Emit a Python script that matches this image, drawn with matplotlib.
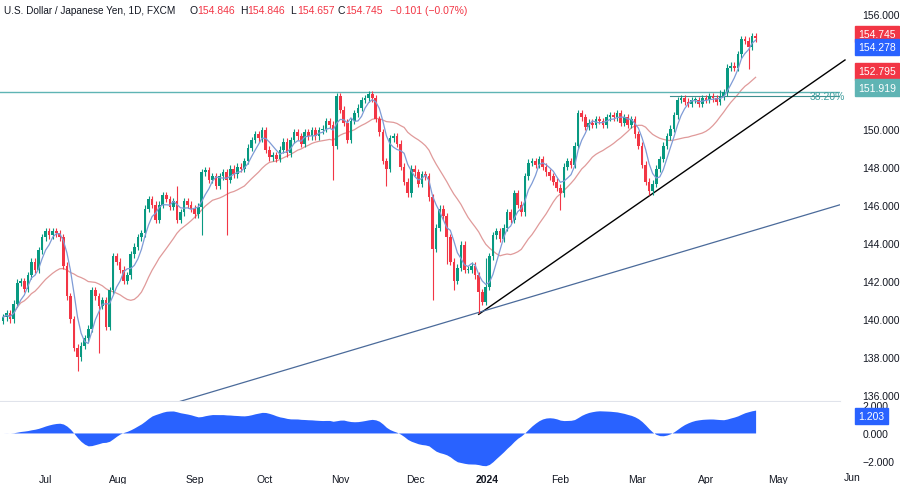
import numpy as np
import pandas as pd
import matplotlib
matplotlib.use("Agg")
import matplotlib.pyplot as plt

plt.rcParams['font.family'] = ['Liberation Sans', 'DejaVu Sans']

closes = [140.1,140.3,140.0,140.8,141.9,142.0,141.6,142.3,143.0,142.6,
          143.6,144.3,144.6,144.4,144.6,144.5,144.3,142.8,141.2,140.0,
          138.5,138.0,138.6,139.0,139.5,141.5,141.2,140.7,141.0,139.6,
          141.5,143.3,143.0,142.6,142.0,142.3,143.4,143.8,144.3,144.5,
          145.8,146.3,146.0,145.2,146.0,146.5,146.3,145.9,146.2,145.2,
          145.6,146.2,146.0,145.8,145.5,145.9,147.7,147.8,147.3,147.5,
          147.0,147.5,147.7,147.3,147.9,147.6,148.0,147.9,148.3,149.0,
          149.4,149.7,149.5,149.9,148.9,148.5,148.6,148.4,148.9,149.3,
          148.7,149.4,149.8,149.6,149.2,149.8,149.6,149.9,149.6,149.9,
          150.0,150.4,150.2,149.1,151.7,151.0,150.3,149.4,150.4,150.8,
          151.1,151.5,151.6,151.8,151.6,150.5,149.8,148.3,147.9,149.5,
          149.6,149.2,148.0,147.2,146.6,147.9,147.7,147.1,147.6,147.5,
          146.4,143.7,144.8,145.8,145.4,144.3,143.0,142.0,142.7,143.9,
          142.6,142.6,142.8,142.3,141.4,140.9,141.7,143.3,144.4,144.6,
          144.2,144.8,145.6,145.2,146.6,146.0,145.6,147.5,148.2,148.3,
          148.1,148.4,148.0,147.7,147.5,147.2,146.9,146.6,148.0,148.3,
          148.1,149.1,150.8,150.6,150.1,150.3,150.2,150.5,150.4,150.2,
          150.6,150.7,150.6,150.8,150.3,150.6,150.2,150.5,149.7,149.1,
          148.1,147.2,146.7,147.1,147.9,148.4,149.1,149.6,150.0,150.7,
          151.5,151.6,151.4,151.3,151.5,151.5,151.3,151.6,151.5,151.7,
          151.6,151.4,151.7,151.9,153.2,153.3,153.2,153.9,154.7,154.6,
          154.3,154.846,154.745]
first_open = 139.9
long_wicks = {21: (None, 137.3), 27: (None, 138.2), 49: (147.0, None),
              56: (None, 144.4), 63: (None, 144.4), 93: (None, 147.3), 103: (151.95, None),
              108: (None, 147.0), 121: (None, 141.0), 125: (None, 142.9), 127: (None, 141.5),
              134: (None, 140.3), 136: (143.2, None), 157: (None, 145.7), 182: (None, 146.5),
              202: (152.0, None), 210: (None, 153.1)}
month_labels = ["Jul", "Aug", "Sep", "Oct", "Nov", "Dec", "2024", "Feb", "Mar", "Apr", "May", "Jun"]
month_px = [45, 118, 195, 265, 340, 415, 487, 560, 637, 706, 778, 852]
resist = 151.919
fib_level = 151.72

GREEN, RED = "#089981", "#f23645"
n = len(closes)
c = np.array(closes)
o = np.concatenate([[first_open], c[:-1]])
o[-1] = 154.846
hi = np.maximum(o, c) + 0.18
lo = np.minimum(o, c) - 0.18
for k, (h, l) in long_wicks.items():
    if h is not None: hi[k] = max(hi[k], h)
    if l is not None: lo[k] = min(lo[k], l)
idx = np.arange(n)
px2i = lambda p: (p - 3) / 3.55

s = pd.Series(c)
ma_fast = s.rolling(5, min_periods=1).mean()
ma_slow = s.rolling(20, min_periods=1).mean()
osc = (s.ewm(span=10).mean() - s.ewm(span=30).mean()).ewm(span=4).mean()

fig = plt.figure(figsize=(9, 4.85), dpi=100)
ax = fig.add_axes([0, 1 - 402/485, 840/900, 402/485])
ax2 = fig.add_axes([0, 1 - 468/485, 840/900, 65/485], sharex=ax)

for i in idx:
    col = GREEN if c[i] >= o[i] else RED
    ax.vlines(i, lo[i], hi[i], color=col, lw=0.8, zorder=3)
    ax.bar(i, max(abs(c[i]-o[i]), 0.03), bottom=min(o[i], c[i]), width=0.75, color=col, zorder=4)
ax.plot(idx, ma_fast, color="#7e9bd6", lw=0.9, zorder=5)
ax.plot(idx, ma_slow, color="#e09a9a", lw=0.9, zorder=2)

xmin, xmax = px2i(0), px2i(840)
ax.axhline(resist, color="#5fb4b4", lw=1.0)
ax.plot([px2i(670), xmax], [fib_level, fib_level], color="#3f8f8f", lw=0.8)
ax.text(px2i(810), fib_level, "38.20%", color="#3f9e9e", fontsize=7.5, va="center", ha="left")
ax.plot([134, px2i(845)], [140.25, 153.6], color="black", lw=1.0, clip_on=False)
ax.plot([px2i(175), px2i(840)], [135.6, 146.0], color="#4a6a9a", lw=0.9)

ax.set_xlim(xmin, xmax)
ax.set_ylim(135.7, 156.8)
ax.yaxis.tick_right()
yt = [136, 138, 140, 142, 144, 146, 148, 150, 156]
ax.set_yticks(yt)
ax.set_yticklabels([f"{v:.3f}" for v in yt], fontsize=7.5, color="#131722")
ax.tick_params(axis="y", length=0, pad=16)
ax.tick_params(axis="x", bottom=False, labelbottom=False)
for sp in ax.spines.values(): sp.set_visible(False)
ax.spines["bottom"].set_visible(True); ax.spines["bottom"].set_color("#e0e3eb")

tags = [("154.745", RED), ("154.278", "#2962ff"), ("152.795", RED), ("151.919", "#5fb4b4")]
ypos = [154.95, 154.28, 153.0, 152.15]
for (t, col), yp in zip(tags, ypos):
    ax.text(1.022, yp, t, transform=ax.get_yaxis_transform(), fontsize=7.5, color="white", zorder=10,
            va="center", ha="left", bbox=dict(boxstyle="square,pad=0.3", fc=col, ec=col), clip_on=False)

ty = 1 - 11/485
fig.text(0.005, ty, "U.S. Dollar / Japanese Yen, 1D, FXCM", fontsize=7.2, color="#131722", va="center")
pieces = [("O", "154.846", 190), ("H", "154.846", 240), ("L", "154.657", 290), ("C", "154.745", 338)]
for letter, val, xp in pieces:
    fig.text(xp/900, ty, letter, fontsize=7.5, color="#131722", va="center")
    fig.text((xp + 7)/900, ty, val, fontsize=7.5, color=RED, va="center")
fig.text(390/900, ty, "\u22120.101 (\u22120.07%)", fontsize=7.5, color=RED, va="center")

ax2.fill_between(idx, 0, osc, color="#2962ff", lw=0)
ax2.set_ylim(-2.43, 2.21)
ax2.yaxis.tick_right()
ax2.set_yticks([-2, 0, 2])
ax2.set_yticklabels(["\u22122.000", "0.000", "2.000"], fontsize=7.5, color="#131722")
ax2.tick_params(axis="y", length=0, pad=16)
ax2.text(1.022, 1.2, "1.203", transform=ax2.get_yaxis_transform(), fontsize=7.5, zorder=10,
         color="white", va="center", ha="left", bbox=dict(boxstyle="square,pad=0.3", fc="#2962ff", ec="#2962ff"), clip_on=False)
ax2.set_xticks([px2i(p) for p in month_px])
ax2.set_xticklabels(month_labels, fontsize=7.5, color="#131722")
for lab in ax2.get_xticklabels():
    if lab.get_text() == "2024": lab.set_fontweight("bold")
ax2.tick_params(axis="x", length=0, pad=5)
for sp in ax2.spines.values(): sp.set_visible(False)
ax2.set_xlim(xmin, xmax)
fig.text(852/900, 1 - 478/485, "Jun", fontsize=7.5, color="#131722", ha="center", va="center")
fig.savefig("out.png", dpi=100)
